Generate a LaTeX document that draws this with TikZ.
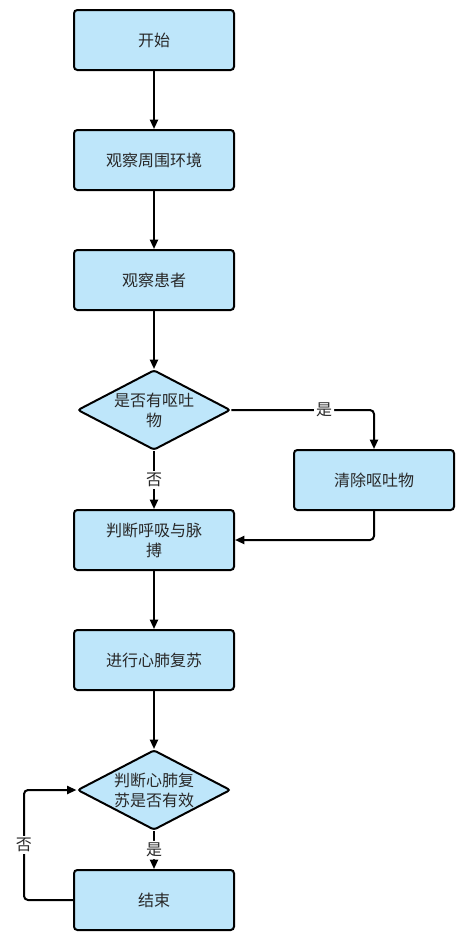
\documentclass[tikz,border=0pt]{standalone}
\usepackage{fontspec}
\newfontfamily\cjk{Noto Sans CJK SC}
\usetikzlibrary{shapes.geometric,arrows.meta}
\definecolor{boxblue}{RGB}{190,230,250}
\definecolor{txtgray}{RGB}{40,40,40}
\tikzset{
    stepbox/.style={draw, line width=1.5pt, rounded corners=2.5pt, fill=boxblue,
        minimum width=120pt, minimum height=45pt, align=center,
        font=\cjk\fontsize{12}{15}\selectfont, text=txtgray},
    checkbox/.style={draw, diamond, line width=1.5pt, rounded corners=2pt, fill=boxblue,
        aspect=2.1, inner sep=0pt, minimum width=114pt, minimum height=60pt, align=center,
        font=\cjk\fontsize{12}{15}\selectfont, text=txtgray},
    flow/.style={line width=1.5pt, -{Triangle[length=7pt,width=6pt]}, rounded corners=3pt},
    tag/.style={fill=white, inner sep=1.5pt, font=\cjk\fontsize{12}{15}\selectfont, text=txtgray}
}
\begin{document}
\begin{tikzpicture}[x=0.75pt,y=-0.75pt]
        \useasboundingbox (0,0) rectangle (463,939);

        % Main column
        \node[stepbox] (start) at (154,40) {开始};
        \node[stepbox] (env) at (154,160) {观察周围环境};
        \node[stepbox] (patient) at (154,280) {观察患者};
        \node[checkbox] (vomit) at (154,410) {是否有呕吐\\物};
        \node[stepbox] (clear) at (374,480) {清除呕吐物};
        \node[stepbox] (breath) at (154,540) {判断呼吸与脉\\搏};
        \node[stepbox] (cpr) at (154,660) {进行心肺复苏};
        \node[checkbox] (check) at (154,790) {判断心肺复\\苏是否有效};
        \node[stepbox] (end) at (154,900) {结束};

        % Straight connectors
        \draw[flow] (start) -- (env);
        \draw[flow] (env) -- (patient);
        \draw[flow] (patient) -- (vomit);
        \draw[flow] (vomit) -- node[tag] {否} (breath);
        \draw[flow] (breath) -- (cpr);
        \draw[flow] (cpr) -- (check);
        \draw[flow] (check) -- node[tag] {是} (end);

        % Connectors with bends
        \draw[flow] (vomit.east) -- node[tag, pos=0.65] {是} (clear.north |- vomit.east) -- (clear.north);
        \draw[flow] (clear.south) -- (clear.south |- breath.east) -- (breath.east);
        \coordinate (back) at (24,900);
        \draw[flow] (end.west) -- (back) -- node[tag] {否} (back |- check.west) -- (check.west);

    \end{tikzpicture}
\end{document}
